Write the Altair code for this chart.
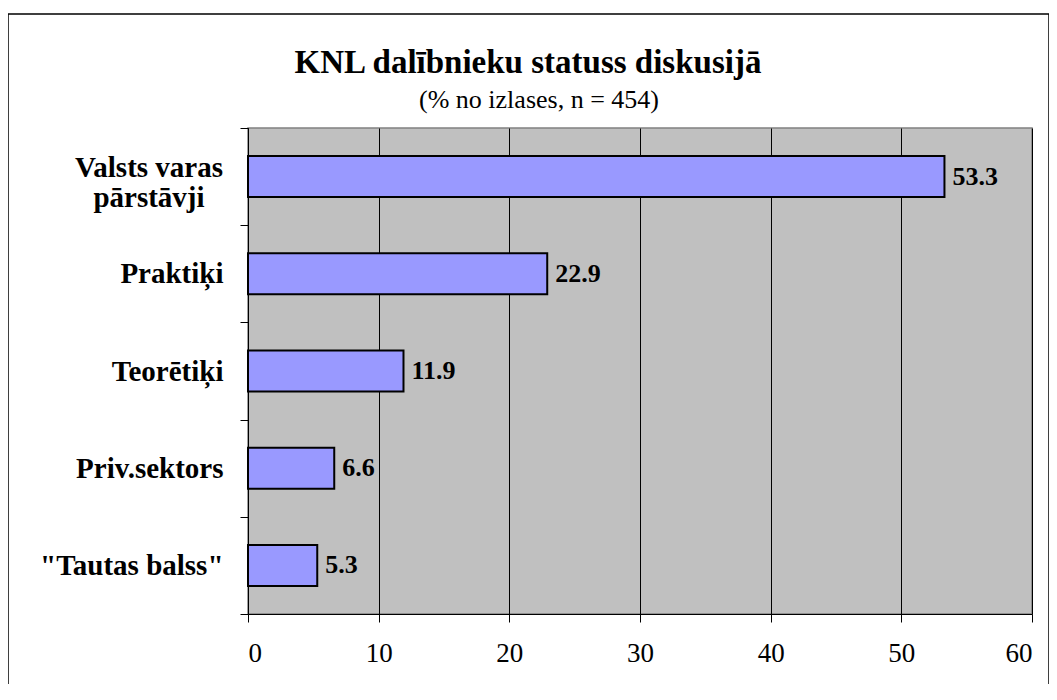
import altair as alt
import pandas as pd

categories = ["Valsts varas pārstāvji", "Praktiķi", "Teorētiķi", "Priv.sektors", "\"Tautas balss\""]
values = [53.3, 22.9, 11.9, 6.6, 5.3]
first_label_lines = ["Valsts varas", "pārstāvji"]
title_text = "KNL dalībnieku statuss diskusijā"
subtitle_text = "(% no izlases, n = 454)"

df = pd.DataFrame({"cat": categories, "val": values, "lbl": [f"{v:.1f}" for v in values]})
FONT = "Liberation Serif"

W, H = 784, 486

y_enc = alt.Y("cat:N", sort=categories, title=None,
              scale=alt.Scale(paddingInner=0, paddingOuter=0),
              axis=alt.Axis(tickBand="extent", labelFont=FONT, labelFontSize=29,
                            labelFontWeight="bold", labelColor="black", labelPadding=17,
                            tickSize=8, tickColor="black", domainColor="black",
                            labelLimit=300,
                            labelExpr="datum.label == 'Valsts varas pārstāvji' ? '' : datum.label"))
x_enc = alt.X("val:Q", title=None,
              scale=alt.Scale(domain=[0, 60], nice=False),
              axis=alt.Axis(values=[0, 10, 20, 30, 40, 50, 60], labelFont=FONT, labelFontSize=27,
                            labelColor="black", labelPadding=18, tickSize=8, tickColor="black",
                            domainColor="black", grid=True, gridColor="#000000", gridWidth=1,
                            gridOpacity=1))

bars = alt.Chart(df).mark_bar(size=41, color="#9999FF", stroke="black", strokeWidth=2).encode(
    x=x_enc, y=y_enc)
labels = alt.Chart(df).mark_text(align="left", baseline="middle", dx=8, font=FONT, fontSize=26,
                                 fontWeight="bold", color="black").encode(
    x=alt.X("val:Q"), y=alt.Y("cat:N", sort=categories), text="lbl:N")

fdf = pd.DataFrame({"cat": [categories[0]], "l1": [first_label_lines[0]], "l2": [first_label_lines[1]]})
ylab1 = alt.Chart(fdf).mark_text(align="center", baseline="alphabetic", dy=0, font=FONT,
                                 fontSize=29, fontWeight="bold", color="black").encode(
    x=alt.value(-99), y=alt.Y("cat:N", sort=categories), text="l1:N")
ylab2 = alt.Chart(fdf).mark_text(align="center", baseline="alphabetic", dy=30, font=FONT,
                                 fontSize=29, fontWeight="bold", color="black").encode(
    x=alt.value(-99), y=alt.Y("cat:N", sort=categories), text="l2:N")

tdf = pd.DataFrame({"t": [title_text], "s": [subtitle_text]})
title = alt.Chart(tdf).mark_text(font=FONT, fontSize=33, fontWeight="bold", color="black",
                                 align="center", baseline="alphabetic").encode(
    x=alt.value(280), y=alt.value(-55), text="t:N")
subtitle = alt.Chart(tdf).mark_text(font=FONT, fontSize=26, color="black",
                                    align="center", baseline="alphabetic").encode(
    x=alt.value(291), y=alt.value(-20), text="s:N")
border = alt.Chart(tdf).mark_rect(fill=None, stroke="black", strokeWidth=1.5).encode(
    x=alt.value(-240), x2=alt.value(801), y=alt.value(-114), y2=alt.value(564))

chart = alt.layer(bars, labels, ylab1, ylab2, title, subtitle, border).properties(
    width=W, height=H, background="white",
    autosize=alt.AutoSizeParams(type="none"),
    padding={"left": 240, "top": 120, "right": 17, "bottom": 70},
).configure_view(fill="#C0C0C0", stroke="#808080", strokeWidth=1.5)

chart.save("out.html", embed_options={"renderer": "svg", "actions": False})
